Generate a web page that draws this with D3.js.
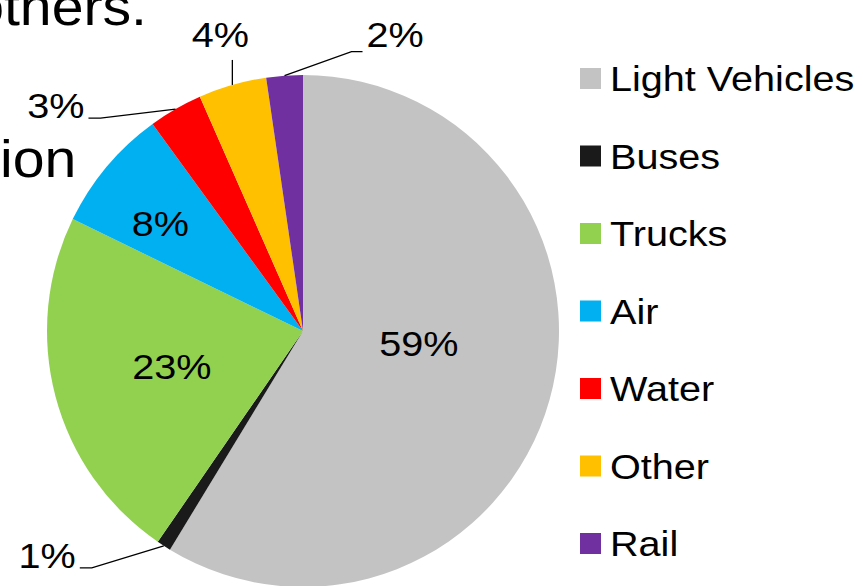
<!DOCTYPE html>
<html>
<head>
<meta charset="utf-8">
<script src="https://cdn.jsdelivr.net/npm/d3@7"></script>
<style>
  body { margin: 0; background: #fff; }
  svg { display: block; font-family: "Liberation Sans", Arial, sans-serif; }
</style>
</head>
<body>
<svg id="chart" width="863" height="586"></svg>
<script>
// shares of transport energy use (%)
var categories = ["Light Vehicles", "Buses", "Trucks", "Air", "Water", "Other", "Rail"];
var shares = [58.7, 0.9, 22.6, 7.8, 3.4, 4.3, 2.3];
var colors = ["#c3c3c3", "#1a1a1a", "#92d050", "#00b0f0", "#ff0000", "#ffc000", "#7030a0"];

// which labels sit inside the slices and which get leader lines
var insideLabels = ["Light Vehicles", "Trucks", "Air"];

function PieChart(){
    var self = this;
    self.init();
};

PieChart.prototype.init = function(){
    var self = this;
    self.svg = d3.select("#chart");
    self.cx = 303;
    self.cy = 331;
    self.radius = 256;
    self.stretch = 1.1;   // slide text is a bit wider than plain Arial
    self.fontSize = 36;

    //nudges for inside labels, relative to the arc centroid
    self.inner = {
        "Light Vehicles": {r: 0.47, dx: 0, dy: -20},
        "Trucks": {r: 0.53, dx: 0, dy: 0},
        "Air": {r: 0.727, dx: 0, dy: 12}
    };
    //leader lines: elbow from the arc point, short tail, then label
    self.outer = {
        "Buses": {elbow: [-72, 22], tail: -12, label: [-4, 0], anchor: "end"},
        "Water": {elbow: [-75, 9], tail: -12, label: [-4, 0], anchor: "end"},
        "Other": {elbow: [0, -25], tail: 0, label: [-12, -13], anchor: "middle"},
        "Rail": {elbow: [67, -24], tail: 11, label: [4, -5], anchor: "start"}
    };
};

PieChart.prototype.text = function(g, x, y, str, anchor, size){
    var self = this;
    return g.append("text")
        .attr("transform", "translate(" + x + "," + y + ") scale(" + self.stretch + ",1)")
        .attr("text-anchor", anchor)
        .attr("font-size", size || self.fontSize)
        .attr("fill", "#000")
        .text(str);
};

PieChart.prototype.update = function(){
    var self = this;
    var svg = self.svg;

    //leftover slide text behind the chart
    self.text(svg, 147, 25, "others.", "end", 52);
    self.text(svg, 0, 177, "ion", "start", 52);

    var entries = categories.map(function(c, i){ return {name: c, value: shares[i], color: colors[i]}; });

    let pie = d3.pie()
        .sort(null)
        .value(d => d.value);
    let arcs = pie(entries);

    let arc = d3.arc()
        .innerRadius(0)
        .outerRadius(self.radius);

    let g = svg.append("g")
        .attr("transform", "translate(" + self.cx + "," + self.cy + ")");

    g.selectAll(".slice")
        .data(arcs)
        .enter()
        .append("path")
        .attr("class", "slice")
        .attr("d", arc)
        .attr("fill", d => d.data.color);

    //inside labels
    arcs.filter(d => insideLabels.indexOf(d.data.name) >= 0).forEach(function(d){
        var o = self.inner[d.data.name];
        var r = self.radius * o.r;
        var c = d3.arc().innerRadius(r).outerRadius(r).centroid(d);
        self.text(g, c[0] + o.dx, c[1] + o.dy + 13, Math.round(d.value) + "%", "middle");
    });

    //outside labels with leader lines
    var edge = d3.arc().innerRadius(self.radius).outerRadius(self.radius);
    arcs.filter(d => insideLabels.indexOf(d.data.name) < 0).forEach(function(d){
        var o = self.outer[d.data.name];
        var p = edge.centroid(d);
        var e = [p[0] + o.elbow[0], p[1] + o.elbow[1]];
        var t = [e[0] + o.tail, e[1]];
        g.append("polyline")
            .attr("points", [p, e, t].map(q => q.join(",")).join(" "))
            .attr("fill", "none")
            .attr("stroke", "#000")
            .attr("stroke-width", 1.3);
        self.text(g, t[0] + o.label[0], t[1] + o.label[1], Math.round(d.value) + "%", o.anchor);
    });

    //legend
    let yScale = d3.scaleLinear()
        .domain([0, categories.length - 1])
        .range([68, 533]);

    let legend = svg.append("g");
    legend.selectAll(".key")
        .data(entries)
        .enter()
        .append("rect")
        .attr("class", "key")
        .attr("x", 580)
        .attr("y", (d, i) => yScale(i))
        .attr("width", 21)
        .attr("height", 21)
        .attr("fill", d => d.color);

    entries.forEach(function(d, i){
        self.text(legend, 610, yScale(i) + 23, d.name, "start");
    });
};

var chart = new PieChart();
chart.update();
</script>
</body>
</html>
